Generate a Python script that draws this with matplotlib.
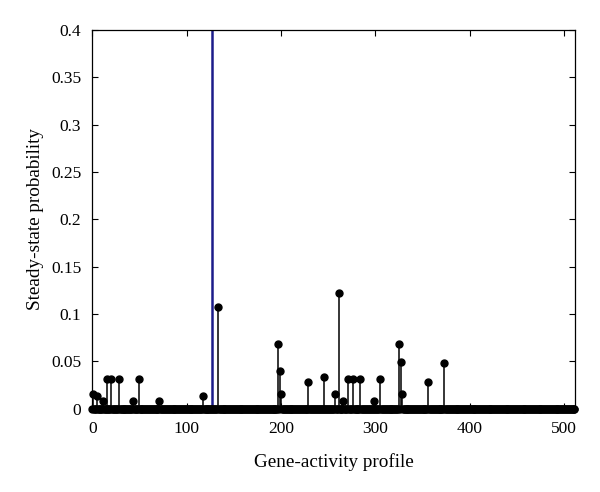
import numpy as np
import matplotlib
matplotlib.use("Agg")
import matplotlib.pyplot as plt

n_states = 512
nz_idx = [1, 5, 11, 15, 20, 28, 43, 49, 71, 117, 133, 197, 199, 200, 229, 245,
          257, 261, 266, 271, 276, 284, 299, 305, 325, 327, 328, 356, 373]
nz_val = [0.016, 0.014, 0.0085, 0.031, 0.031, 0.031, 0.0085, 0.031, 0.0085, 0.014,
          0.108, 0.068, 0.040, 0.016, 0.028, 0.034, 0.016, 0.1225, 0.008, 0.031,
          0.031, 0.031, 0.008, 0.031, 0.068, 0.049, 0.016, 0.028, 0.048]
attractor_idx = 127
attractor_val = 0.45

x_ticks = [0, 100, 200, 300, 400, 500]
y_ticks = [0, 0.05, 0.1, 0.15, 0.2, 0.25, 0.3, 0.35, 0.4]
y_ticklabels = ["0", "0.05", "0.1", "0.15", "0.2", "0.25", "0.3", "0.35", "0.4"]

probs = np.zeros(n_states)
probs[nz_idx] = nz_val

plt.rcParams['font.family'] = ['Liberation Serif', 'DejaVu Serif']
plt.rcParams['font.size'] = 12.5

fig = plt.figure(figsize=(6.0, 4.92), dpi=100)
ax = fig.add_axes([0.154, 0.169, 0.805, 0.770])

states = np.arange(n_states)
mask = probs > 0
ax.vlines(states[mask], 0, probs[mask], colors='black', linewidth=1.1, zorder=2)
ax.plot(states, probs, linestyle='none', marker='o', markersize=5.0,
        color='black', clip_on=False, zorder=3)
ax.vlines([attractor_idx], 0, [attractor_val], colors='#1c1c8a', linewidth=1.8, zorder=2)

ax.set_xlim(0, 512)
ax.set_ylim(0, 0.4)
ax.set_xticks(x_ticks)
ax.set_yticks(y_ticks)
ax.set_yticklabels(y_ticklabels)
ax.tick_params(direction='in', top=True, right=True, length=4, width=0.8)
ax.tick_params(axis='y', pad=8)
ax.tick_params(axis='x', pad=9)
for s in ax.spines.values():
    s.set_linewidth(0.9)
ax.set_xlabel("Gene-activity profile", fontsize=13.8, labelpad=11)
ax.set_ylabel("Steady-state probability", fontsize=13.8, labelpad=5)

fig.savefig("out.png", dpi=100)
